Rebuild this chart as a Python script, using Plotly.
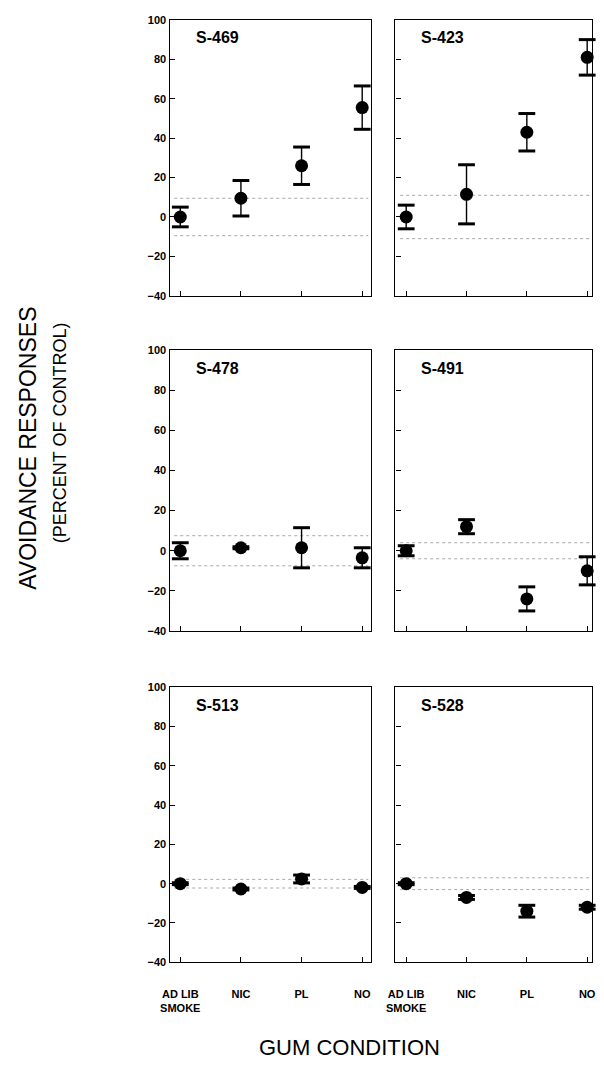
import plotly.graph_objects as go

categories = ["AD LIB<br>SMOKE", "NIC", "PL", "NO"]
y_ticks = [-40, -20, 0, 20, 40, 60, 80, 100]

subjects = ["S-469", "S-423", "S-478", "S-491", "S-513", "S-528"]
means = {
    "S-469": [0, 9.5, 26, 55.5],
    "S-423": [0, 11.5, 43, 81],
    "S-478": [0, 1.5, 1.5, -3.5],
    "S-491": [0, 12, -24, -10],
    "S-513": [0, -2.7, 2.4, -1.9],
    "S-528": [0, -7, -14, -12],
}
errors = {
    "S-469": [5, 9, 9.5, 11],
    "S-423": [6, 15, 9.5, 9],
    "S-478": [4, 0.5, 10, 5],
    "S-491": [2.5, 3.5, 6, 7],
    "S-513": [0.5, 0.5, 2, 0.5],
    "S-528": [0.5, 1, 3, 1],
}
bands = {
    "S-469": 9.5,
    "S-423": 11,
    "S-478": 7.5,
    "S-491": 4,
    "S-513": 2.2,
    "S-528": 3,
}

# the page has an 8px body margin; keep the figure inside the window
W, H = 588, 1068
rows_px = [(6, 285), (340, 624), (681, 959)]
cols_px = [(156, 362), (387, 588)]
col_ranges = [[-0.177, 3.145], [-0.178, 3.08]]

fig = go.Figure()
xs = list(range(len(categories)))

for i, s in enumerate(subjects):
    r, c = divmod(i, 2)
    n = i + 1
    xa = "x" if n == 1 else f"x{n}"
    ya = "y" if n == 1 else f"y{n}"
    b = bands[s]
    for yv in (b, -b):
        fig.add_trace(go.Scatter(x=[-0.1, 3.1], y=[yv, yv], mode="lines",
                                 line=dict(color="#a8a8a8", width=1, dash="dot"),
                                 xaxis=xa, yaxis=ya, showlegend=False, hoverinfo="skip"))
    m, e = means[s], errors[s]
    fig.add_trace(go.Scatter(x=xs, y=m, mode="markers",
                             marker=dict(size=1, color="black"),
                             error_y=dict(type="data", array=e, visible=True,
                                          color="black", thickness=1.4, width=0),
                             cliponaxis=False,
                             xaxis=xa, yaxis=ya, showlegend=False, hoverinfo="skip"))
    caps_y = [v + d for v, d in zip(m, e)] + [v - d for v, d in zip(m, e)]
    fig.add_trace(go.Scatter(x=xs + xs, y=caps_y, mode="markers",
                             marker=dict(symbol="line-ew", size=12,
                                         line=dict(color="black", width=3)),
                             cliponaxis=False,
                             xaxis=xa, yaxis=ya, showlegend=False, hoverinfo="skip"))
    fig.add_trace(go.Scatter(x=xs, y=m, mode="markers",
                             marker=dict(size=13, color="black"),
                             cliponaxis=False,
                             xaxis=xa, yaxis=ya, showlegend=False))
    y0, y1 = rows_px[r]
    x0, x1 = cols_px[c]
    xkey = "xaxis" if n == 1 else f"xaxis{n}"
    ykey = "yaxis" if n == 1 else f"yaxis{n}"
    fig.layout[xkey] = dict(
        domain=[x0 / W, x1 / W], anchor=ya, range=col_ranges[c],
        tickvals=xs, ticktext=categories if r == 2 else [""] * 4,
        showticklabels=(r == 2), ticks="inside", ticklen=5, tickwidth=1,
        tickcolor="black", showline=True, linecolor="black", linewidth=1.4,
        mirror=True, showgrid=False, zeroline=False,
        tickfont=dict(family="Arial", size=11, color="black", weight="bold"),
        ticklabelstandoff=21, ticklabeloverflow="allow",
    )
    fig.layout[ykey] = dict(
        domain=[1 - y1 / H, 1 - y0 / H], anchor=xa, range=[-40, 100],
        tickvals=y_ticks, showticklabels=(c == 0), ticks="inside", ticklen=5,
        tickwidth=1, tickcolor="black", showline=True, linecolor="black",
        linewidth=1.4, mirror=True, showgrid=False, zeroline=False,
        tickfont=dict(family="Arial", size=11, color="black", weight="bold"),
    )
    fig.add_annotation(text=s, xref=f"{xa} domain", yref=f"{ya} domain",
                       x=0.12, y=0.935, xanchor="left", yanchor="middle",
                       showarrow=False,
                       font=dict(family="Arial", size=16, color="black", weight="bold"))

fig.add_annotation(text="AVOIDANCE RESPONSES", xref="paper", yref="paper",
                   x=11 / W, y=1 - 439 / H, textangle=-90, showarrow=False,
                   xanchor="center", yanchor="middle",
                   font=dict(family="Arial", size=23, color="black"))
fig.add_annotation(text="(PERCENT OF CONTROL)", xref="paper", yref="paper",
                   x=44 / W, y=1 - 424 / H, textangle=-90, showarrow=False,
                   xanchor="center", yanchor="middle",
                   font=dict(family="Arial", size=18, color="black"))
fig.add_annotation(text="GUM CONDITION", xref="paper", yref="paper",
                   x=340 / W, y=1 - 1045 / H, showarrow=False,
                   xanchor="center", yanchor="middle",
                   font=dict(family="Arial", size=22, color="black"))

fig.update_layout(width=W, height=H, margin=dict(l=0, r=0, t=0, b=0),
                  paper_bgcolor="white", plot_bgcolor="white")

fig.write_html("out.html")
